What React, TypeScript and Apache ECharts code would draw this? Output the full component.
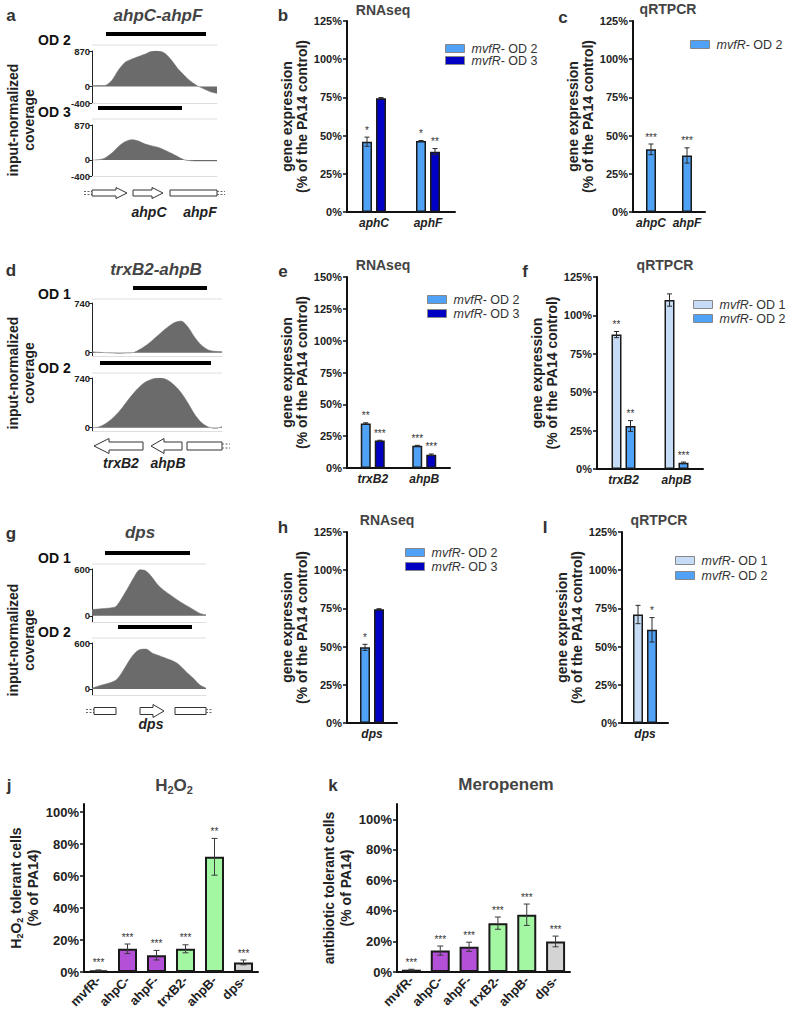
import React, { useEffect, useRef } from 'react';
import * as echarts from 'echarts';

const FONT = "'Liberation Sans', Arial, Helvetica, sans-serif";

// ---------- coverage tracks (input-normalized coverage, sampled evenly along the locus) ----------
const covPositions = ['0', '1', '2', '3', '4', '5', '6', '7', '8', '9', '10', '11', '12', '13', '14', '15', '16', '17', '18', '19'];
const ahpCovOD2 = [25, 25, 30, 150, 400, 590, 670, 730, 790, 860, 870, 820, 660, 450, 280, 130, 20, -55, -125, -165];
const ahpCovOD3 = [0, 5, 50, 170, 330, 450, 505, 475, 400, 355, 315, 250, 170, 85, 5, -20, -25, -25, -25, -25];
const trxCovOD1 = [15, 5, 0, -5, -10, -5, 0, 50, 115, 200, 290, 375, 445, 470, 385, 230, 110, 40, 20, 15];
const trxCovOD2 = [0, 10, 60, 140, 245, 375, 505, 615, 690, 730, 740, 712, 635, 525, 370, 200, 75, 10, -10, 15];
const dpsCovOD1 = [80, 86, 93, 100, 120, 230, 360, 495, 590, 575, 495, 395, 325, 270, 215, 165, 120, 75, 30, 12];
const dpsCovOD2 = [10, 35, 57, 80, 115, 215, 345, 455, 515, 520, 470, 440, 410, 380, 345, 280, 200, 130, 50, 10];
const ahpRange = [-400, 870];
const trxRange = [-50, 740];
const dpsRange = [-80, 600];

// ---------- gene expression panels ----------
const bCats = ['aphC', 'aphF'];
const bOD2 = [46, 46.5]; const bOD2Err = [3, 0.3]; const bOD2Sig = ['*', '*'];
const bOD3 = [74.5, 39.5]; const bOD3Err = [0.4, 2]; const bOD3Sig = ['', '**'];

const cCats = ['ahpC', 'ahpF'];
const cOD2 = [41, 37]; const cOD2Err = [3.5, 5]; const cOD2Sig = ['***', '***'];

const eCats = ['trxB2', 'ahpB'];
const eOD2 = [35, 17.5]; const eOD2Err = [0.5, 0.3]; const eOD2Sig = ['**', '***'];
const eOD3 = [21.5, 10.5]; const eOD3Err = [0.3, 0.5]; const eOD3Sig = ['***', '***'];

const fCats = ['trxB2', 'ahpB'];
const fOD1 = [87.5, 110]; const fOD1Err = [2, 4]; const fOD1Sig = ['**', ''];
const fOD2 = [28, 4]; const fOD2Err = [3.5, 0.5]; const fOD2Sig = ['**', '***'];

const hCats = ['dps'];
const hOD2 = [49.5]; const hOD2Err = [2]; const hOD2Sig = ['*'];
const hOD3 = [74.5]; const hOD3Err = [0.3]; const hOD3Sig = [''];

const iCats = ['dps'];
const iOD1 = [71]; const iOD1Err = [6]; const iOD1Sig = [''];
const iOD2 = [61]; const iOD2Err = [8]; const iOD2Sig = ['*'];

// ---------- tolerance panels ----------
const strains = ['mvfR-', 'ahpC-', 'ahpF-', 'trxB2-', 'ahpB-', 'dps-'];
const h2o2Vals = [1, 14.5, 10.5, 14.5, 72, 6];
const h2o2Err = [0.3, 3, 3, 2.5, 11.5, 1.5];
const h2o2Sig = ['***', '***', '***', '***', '**', '***'];
const meroVals = [1.5, 14, 16.5, 32, 37.5, 20];
const meroErr = [0.3, 3, 3, 4, 7, 3.5];
const meroSig = ['***', '***', '***', '***', '***', '***'];
const pctTicks100 = [0, 20, 40, 60, 80, 100];

const OD1 = 'mvfR- OD 1';
const OD2 = 'mvfR- OD 2';
const OD3 = 'mvfR- OD 3';
const C_OD1 = '#c6dcf6';
const C_OD2 = '#4fa2f6';
const C_OD3 = '#0000c4';
const strainColors = ['#1f3a78', '#b44fd8', '#b44fd8', '#a3f7a3', '#a3f7a3', '#d4d4d4'];

function buildOption() {
  const grids: any[] = [];
  const xAxes: any[] = [];
  const yAxes: any[] = [];
  const series: any[] = [];
  const legends: any[] = [];
  const graphics: any[] = [];

  const addGrid = (r: number[]) => {
    grids.push({ left: r[0], top: r[1], width: r[2], height: r[3], containLabel: false, outerBoundsMode: 'none' });
    return grids.length - 1;
  };

  const addCoverage = (r: number[], range: number[], values: number[]) => {
    const gi = addGrid(r);
    const marks = [range[0], 0, range[1]];
    xAxes.push({
      gridIndex: gi, type: 'category', data: covPositions, boundaryGap: false,
      axisLine: { onZero: false, lineStyle: { color: '#dedede', width: 1 } },
      axisTick: { show: false }, axisLabel: { show: false }, splitLine: { show: false },
    });
    yAxes.push({
      gridIndex: gi, type: 'value', min: range[0], max: range[1],
      splitLine: { show: false },
      axisLine: { show: true, onZero: false, lineStyle: { color: '#222', width: 1 } },
      axisTick: { show: true, length: 3, customValues: marks, lineStyle: { color: '#222', width: 1 } },
      axisLabel: { customValues: marks, fontSize: 9.5, fontWeight: 'bold', color: '#222', margin: 2, fontFamily: FONT },
    });
    series.push({
      type: 'line', xAxisIndex: gi, yAxisIndex: gi, data: values, symbol: 'none', smooth: 0.3, silent: true,
      lineStyle: { width: 0.5, color: '#6b6b6b' }, areaStyle: { color: '#6b6b6b', opacity: 1 },
    });
  };

  const errorSeries = (gi: number, values: number[], errs: number[], sigs: string[], off: number, cap: number, stroke: string) => ({
    type: 'custom', xAxisIndex: gi, yAxisIndex: gi, silent: true, z: 5,
    itemStyle: { color: '#333' },
    data: values.map((v, i) => [i, v, errs[i]]),
    renderItem: (params: any, api: any) => {
      const i = api.value(0);
      const v = api.value(1);
      const e = api.value(2);
      const pTop = api.coord([i, v + e]);
      const pBot = api.coord([i, Math.max(0, v - e)]);
      const x = pTop[0] + off;
      const st = { stroke, lineWidth: 1 };
      const children: any[] = [
        { type: 'line', shape: { x1: x, y1: pTop[1], x2: x, y2: pBot[1] }, style: st },
        { type: 'line', shape: { x1: x - cap, y1: pTop[1], x2: x + cap, y2: pTop[1] }, style: st },
        { type: 'line', shape: { x1: x - cap, y1: pBot[1], x2: x + cap, y2: pBot[1] }, style: st },
      ];
      const s = sigs[params.dataIndex];
      if (s) {
        children.push({
          type: 'text', x, y: pTop[1] - 2,
          style: { text: s, align: 'center', verticalAlign: 'bottom', fontSize: 10, fontFamily: FONT, fill: '#333', stroke: 'none' },
        });
      }
      return { type: 'group', children };
    },
  });

  const nameStyle = { fontSize: 14, fontWeight: 'bold', color: '#222', lineHeight: 15, fontFamily: FONT };

  const addExprPanel = (r: number[], cats: string[], yMax: number, defs: any[], nameGap: number) => {
    const gi = addGrid(r);
    xAxes.push({
      gridIndex: gi, type: 'category', data: cats,
      axisLine: { lineStyle: { color: '#111', width: 2 } },
      axisTick: { alignWithLabel: true, length: 3, lineStyle: { color: '#111', width: 1.5 } },
      axisLabel: { interval: 0, fontSize: 12, fontWeight: 'bold', fontStyle: 'italic', color: '#222', fontFamily: FONT, margin: 5 },
    });
    yAxes.push({
      gridIndex: gi, type: 'value', min: 0, max: yMax, interval: 25,
      name: 'gene expression\n(% of the PA14 control)', nameLocation: 'middle', nameRotate: 90, nameGap,
      nameTextStyle: nameStyle,
      splitLine: { show: false },
      axisLine: { show: true, lineStyle: { color: '#111', width: 2 } },
      axisTick: { show: true, length: 4, lineStyle: { color: '#111', width: 1.5 } },
      axisLabel: { formatter: '{value}%', fontSize: 11, fontWeight: 'bold', color: '#222', fontFamily: FONT, margin: 5 },
    });
    const bw = 10;
    const gap = 0.4 * bw;
    const n = defs.length;
    const total = n * bw + (n - 1) * gap;
    defs.forEach((d: any, k: number) => {
      series.push({
        type: 'bar', name: d.name, xAxisIndex: gi, yAxisIndex: gi, data: d.values, barWidth: bw, barGap: '40%', silent: true,
        itemStyle: { color: d.color, borderColor: '#1a1a1a', borderWidth: 1.5 },
      });
      const off = -total / 2 + bw / 2 + k * (bw + gap);
      series.push(errorSeries(gi, d.values, d.errs, d.sigs, off, 2.5, '#2a2a2a'));
    });
  };

  const addLegend = (left: number, top: number, names: string[], gap: number) => {
    legends.push({
      left, top, orient: 'vertical', itemWidth: 19, itemHeight: 8, itemGap: gap, icon: 'rect', selectedMode: false,
      data: names,
      itemStyle: { borderColor: '#888', borderWidth: 1 },
      formatter: (name: string) => `{i|mvfR}{n|${name.replace('mvfR', '')}}`,
      textStyle: {
        fontFamily: FONT, fontSize: 12.5, color: '#333', padding: [0, 0, 0, 2],
        rich: {
          i: { fontFamily: FONT, fontSize: 12.5, fontStyle: 'italic', color: '#333' },
          n: { fontFamily: FONT, fontSize: 12.5, color: '#333' },
        },
      },
    });
  };

  const addTolerance = (r: number[], yMax: number, vals: number[], errs: number[], sigs: string[], name: string) => {
    const gi = addGrid(r);
    xAxes.push({
      gridIndex: gi, type: 'category', data: strains,
      axisLine: { lineStyle: { color: '#111', width: 2 } },
      axisTick: { alignWithLabel: true, length: 4, lineStyle: { color: '#111', width: 1.5 } },
      axisLabel: { interval: 0, rotate: 45, fontSize: 13, fontWeight: 'bold', color: '#222', fontFamily: FONT, margin: 6 },
    });
    yAxes.push({
      gridIndex: gi, type: 'value', min: 0, max: yMax,
      name, nameLocation: 'middle', nameRotate: 90, nameGap: 40,
      nameTextStyle: {
        ...nameStyle, lineHeight: 17,
        rich: {
          b: { fontSize: 14, fontWeight: 'bold', color: '#222', fontFamily: FONT, lineHeight: 17 },
          s: { fontSize: 9, fontWeight: 'bold', color: '#222', fontFamily: FONT, lineHeight: 17, verticalAlign: 'bottom' },
        },
      },
      splitLine: { show: false },
      axisLine: { show: true, lineStyle: { color: '#111', width: 2 } },
      axisTick: { show: true, length: 4, customValues: pctTicks100, lineStyle: { color: '#111', width: 1.5 } },
      axisLabel: { customValues: pctTicks100, formatter: '{value}%', fontSize: 13, fontWeight: 'bold', color: '#222', fontFamily: FONT, margin: 5 },
    });
    series.push({
      type: 'bar', xAxisIndex: gi, yAxisIndex: gi, barWidth: 19, silent: true,
      data: vals.map((v, i) => ({ value: v, itemStyle: { color: strainColors[i] } })),
      itemStyle: { borderColor: '#1a1a1a', borderWidth: 2 },
    });
    series.push(errorSeries(gi, vals, errs, sigs, 0, 3, '#3a3a3a'));
  };

  // coverage grids
  addCoverage([92, 51, 125, 52], ahpRange, ahpCovOD2);
  addCoverage([92, 125, 125, 51], ahpRange, ahpCovOD3);
  addCoverage([92, 303, 130, 53], trxRange, trxCovOD1);
  addCoverage([92, 378, 130, 53], trxRange, trxCovOD2);
  addCoverage([92, 569, 114, 53], dpsRange, dpsCovOD1);
  addCoverage([92, 643, 114, 52], dpsRange, dpsCovOD2);

  // expression panels
  addExprPanel([347, 21, 108, 191], bCats, 125, [
    { name: OD2, color: C_OD2, values: bOD2, errs: bOD2Err, sigs: bOD2Sig },
    { name: OD3, color: C_OD3, values: bOD3, errs: bOD3Err, sigs: bOD3Sig },
  ], 36);
  addExprPanel([633, 21, 72, 191], cCats, 125, [
    { name: OD2, color: C_OD2, values: cOD2, errs: cOD2Err, sigs: cOD2Sig },
  ], 36);
  addExprPanel([347, 277, 103, 191], eCats, 150, [
    { name: OD2, color: C_OD2, values: eOD2, errs: eOD2Err, sigs: eOD2Sig },
    { name: OD3, color: C_OD3, values: eOD3, errs: eOD3Err, sigs: eOD3Sig },
  ], 36);
  addExprPanel([597, 277, 106, 192], fCats, 125, [
    { name: OD1, color: C_OD1, values: fOD1, errs: fOD1Err, sigs: fOD1Sig },
    { name: OD2, color: C_OD2, values: fOD2, errs: fOD2Err, sigs: fOD2Sig },
  ], 36);
  addExprPanel([347, 532, 50, 191], hCats, 125, [
    { name: OD2, color: C_OD2, values: hOD2, errs: hOD2Err, sigs: hOD2Sig },
    { name: OD3, color: C_OD3, values: hOD3, errs: hOD3Err, sigs: hOD3Sig },
  ], 36);
  addExprPanel([622, 532, 46, 191], iCats, 125, [
    { name: OD1, color: C_OD1, values: iOD1, errs: iOD1Err, sigs: iOD1Sig },
    { name: OD2, color: C_OD2, values: iOD2, errs: iOD2Err, sigs: iOD2Sig },
  ], 36);

  addLegend(440, 37, [OD2, OD3], -1);
  addLegend(685, 33, [OD2], 1);
  addLegend(422, 288, [OD2, OD3], 1);
  addLegend(688, 293, [OD1, OD2], 1);
  addLegend(400, 541, [OD2, OD3], 1);
  addLegend(670, 549, [OD1, OD2], 2);

  // tolerance panels
  addTolerance([84, 804, 174, 168], 105, h2o2Vals, h2o2Err, h2o2Sig,
    '{b|H}{s|2}{b|O}{s|2}{b| tolerant cells}\n{b|(% of PA14)}');
  addTolerance([397, 804, 173, 168], 110, meroVals, meroErr, meroSig,
    '{b|antibiotic tolerant cells}\n{b|(% of PA14)}');

  // ---------- decorations ----------
  const txt = (text: string, x: number, y: number, o: any = {}) => ({
    type: 'text', x, y, silent: true,
    style: { text, fontFamily: FONT, fontSize: 14, fontWeight: 'bold', fill: '#222', align: 'center', verticalAlign: 'middle', ...o },
  });

  // panel letters
  ([['a', 11, 15], ['b', 283, 15], ['c', 563, 17], ['d', 11, 270], ['e', 283, 271], ['f', 525, 271],
    ['g', 11, 533], ['h', 283, 527], ['I', 545, 527], ['j', 9, 785], ['k', 333, 785]] as any[])
    .forEach(([t, x, y]) => graphics.push(txt(t, x, y, { fontSize: 17, fill: '#333' })));

  // titles
  graphics.push(txt('ahpC-ahpF', 158, 15, { fontSize: 17, fontStyle: 'italic', fill: '#444' }));
  graphics.push(txt('trxB2-ahpB', 156, 269, { fontSize: 17, fontStyle: 'italic', fill: '#444' }));
  graphics.push(txt('dps', 140, 532, { fontSize: 17, fontStyle: 'italic', fill: '#444' }));
  graphics.push(txt('RNAseq', 383, 10, { fill: '#444' }));
  graphics.push(txt('qRTPCR', 668, 9, { fill: '#444' }));
  graphics.push(txt('RNAseq', 383, 265, { fill: '#444' }));
  graphics.push(txt('qRTPCR', 665, 265, { fill: '#444' }));
  graphics.push(txt('RNAseq', 387, 520, { fill: '#444' }));
  graphics.push(txt('qRTPCR', 659, 520, { fill: '#444' }));
  graphics.push(txt('{b|H}{s|2}{b|O}{s|2}', 174, 785, {
    fill: '#444',
    rich: {
      b: { fontSize: 17, fontWeight: 'bold', fill: '#444', fontFamily: FONT, lineHeight: 20 },
      s: { fontSize: 11, fontWeight: 'bold', fill: '#444', fontFamily: FONT, lineHeight: 20, verticalAlign: 'bottom' },
    },
  }));
  graphics.push(txt('Meropenem', 506, 784, { fontSize: 17, fill: '#444' }));

  // OD labels
  ([['OD 2', 40], ['OD 3', 112], ['OD 1', 294], ['OD 2', 368], ['OD 1', 558], ['OD 2', 632]] as any[])
    .forEach(([t, y]) => graphics.push(txt(t, 38, y, { align: 'left', fill: '#111' })));

  // coverage y titles
  [120, 373, 640].forEach((y) => graphics.push({
    type: 'text', x: 21, y, rotation: Math.PI / 2, silent: true,
    style: { text: 'input-normalized\ncoverage', fontFamily: FONT, fontSize: 14, fontWeight: 'bold', fill: '#222', align: 'center', verticalAlign: 'middle', lineHeight: 16 },
  }));

  // transcript bars
  ([[106, 32, 100], [98, 106, 84], [133, 286, 74], [100, 361, 111], [105, 551, 85], [118, 625, 74]] as any[])
    .forEach(([x, y, w]) => graphics.push({ type: 'rect', silent: true, shape: { x, y, width: w, height: 4 }, style: { fill: '#000' } }));

  // light frame lines above tracks
  ([[92, 217, 45], [92, 217, 119], [92, 222, 299], [92, 222, 373], [92, 206, 564], [92, 206, 638]] as any[])
    .forEach(([x1, x2, y]) => graphics.push({ type: 'line', silent: true, shape: { x1, y1: y, x2, y2: y }, style: { stroke: '#dedede', lineWidth: 1 } }));

  // gene maps
  const geneStyle = { fill: '#fff', stroke: '#333', lineWidth: 1 };
  const arrowR = (x0: number, x1: number, y: number, head: number, bh: number, hh: number) => ({
    type: 'polygon', silent: true, style: geneStyle,
    shape: { points: [[x0, y - bh], [x1 - head, y - bh], [x1 - head, y - hh], [x1, y], [x1 - head, y + hh], [x1 - head, y + bh], [x0, y + bh]] },
  });
  const arrowL = (x0: number, x1: number, y: number, head: number, bh: number, hh: number) => ({
    type: 'polygon', silent: true, style: geneStyle,
    shape: { points: [[x0, y], [x0 + head, y - hh], [x0 + head, y - bh], [x1, y - bh], [x1, y + bh], [x0 + head, y + bh], [x0 + head, y + hh]] },
  });
  const box = (x0: number, x1: number, y: number, bh: number) => ({
    type: 'polygon', silent: true, style: geneStyle,
    shape: { points: [[x0, y - bh], [x1, y - bh], [x1, y + bh], [x0, y + bh]] },
  });
  const dashes = (x0: number, x1: number, y: number, d: number) => [y - d, y + d].map((yy) => ({
    type: 'line', silent: true, shape: { x1: x0, y1: yy, x2: x1, y2: yy }, style: { stroke: '#666', lineWidth: 1, lineDash: [2, 1.5] },
  }));

  graphics.push(...dashes(84, 92, 193, 1.5), arrowR(92, 127, 193, 11, 3, 5.5), arrowR(133, 163, 193, 11, 3, 5.5),
    box(170, 217, 193, 3), ...dashes(217, 225, 193, 1.5));
  graphics.push(arrowL(94, 143, 446, 15, 4, 7.5), arrowL(151, 182, 446, 13, 4, 7.5), box(187, 222, 446, 4),
    ...dashes(222, 230, 446, 2));
  graphics.push(...dashes(86, 94, 711, 1.5), box(94, 116, 711, 3.5), arrowR(140, 164, 711, 11, 3.5, 6.5),
    box(175, 206, 711, 3.5), ...dashes(206, 213, 711, 1.5));

  ([['ahpC', 149, 212], ['ahpF', 200, 212], ['trxB2', 121, 463], ['ahpB', 168, 463], ['dps', 151, 724]] as any[])
    .forEach(([t, x, y]) => graphics.push(txt(t, x, y, { fontStyle: 'italic', fill: '#222' })));

  return {
    backgroundColor: '#fff',
    animation: false,
    textStyle: { fontFamily: FONT },
    grid: grids,
    xAxis: xAxes,
    yAxis: yAxes,
    legend: legends,
    series,
    graphic: { elements: graphics },
  };
}

export default function App() {
  const ref = useRef<HTMLDivElement>(null);
  useEffect(() => {
    document.body.style.margin = '0';
    const chart = echarts.init(ref.current as HTMLDivElement, null, { renderer: 'svg', width: 787, height: 1015 });
    chart.setOption(buildOption() as any);
    return () => chart.dispose();
  }, []);
  return <div ref={ref} style={{ width: 787, height: 1015 }} />;
}
